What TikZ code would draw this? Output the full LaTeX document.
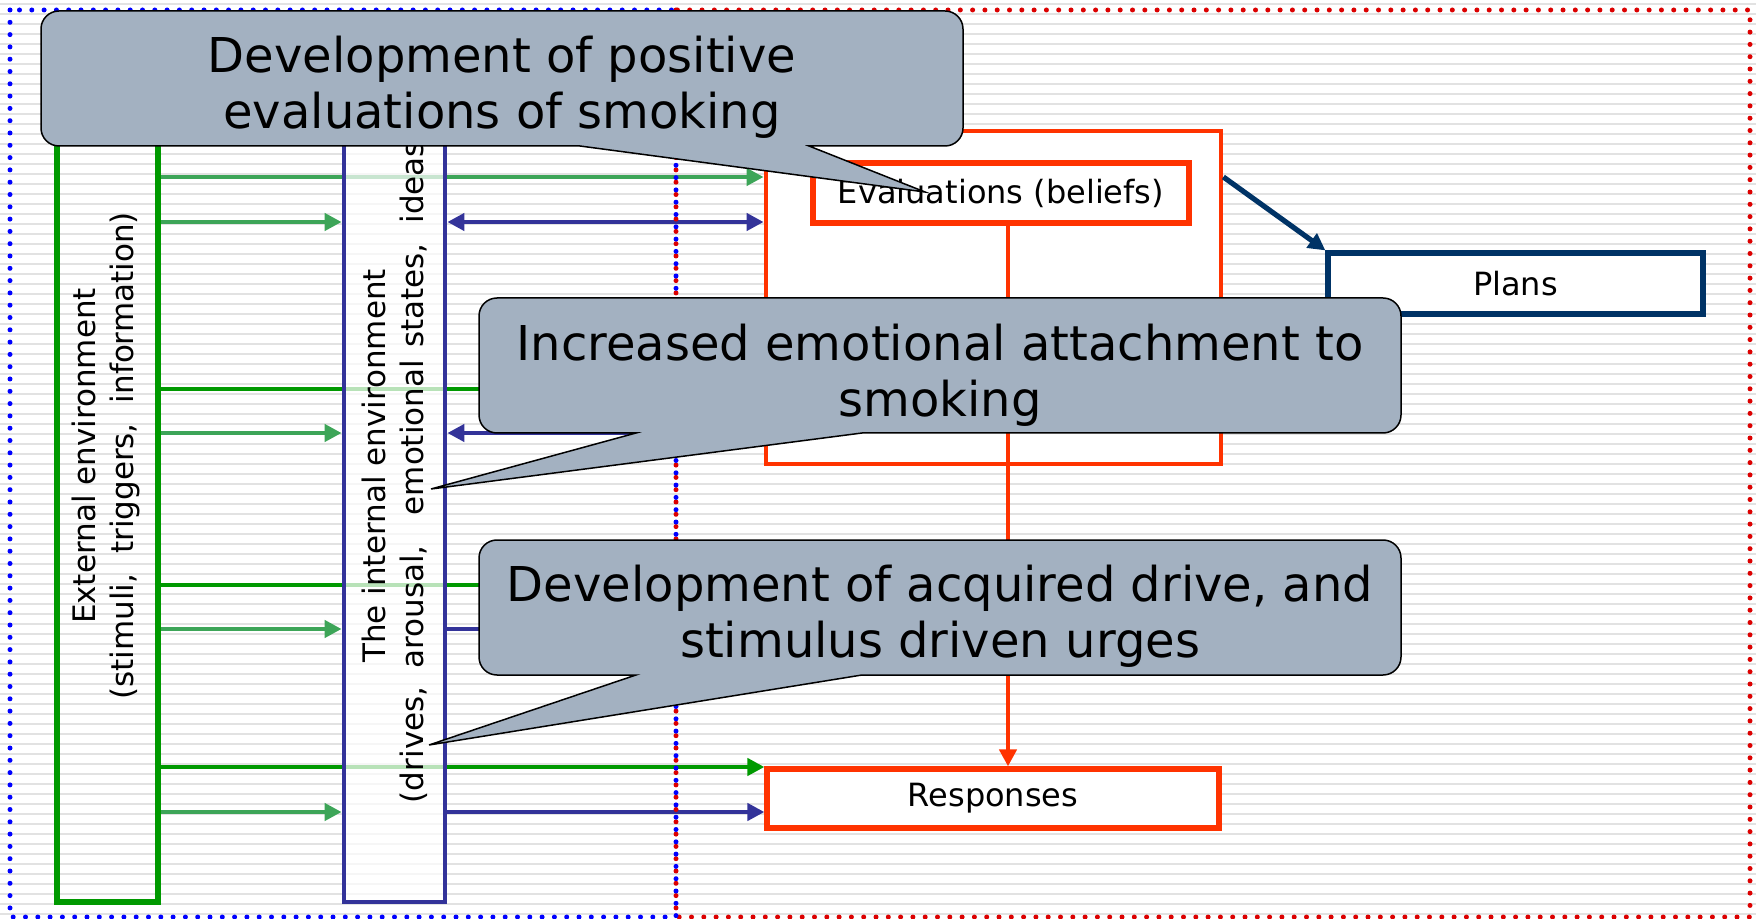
\documentclass[tikz,border=0pt]{standalone}
\usepackage{fontspec}
\setmainfont{DejaVu Sans}
\usetikzlibrary{arrows.meta}
\definecolor{extgreen}{RGB}{0,153,0}
\definecolor{lgreen}{RGB}{61,165,88}
\definecolor{intblue}{RGB}{51,51,153}
\definecolor{ored}{RGB}{255,51,0}
\definecolor{navy}{RGB}{0,51,102}
\definecolor{callfill}{RGB}{163,177,193}
\definecolor{dotred}{RGB}{220,0,0}
\definecolor{dotblue}{RGB}{0,0,255}
\definecolor{stripecol}{RGB}{226,226,226}
\begin{document}
\begin{tikzpicture}[x=0.5pt,y=-0.5pt,
  tipend/.style={-{Triangle[length=8.5pt,width=8.5pt]}},
  tipboth/.style={{Triangle[length=8.5pt,width=8.5pt]}-{Triangle[length=8.5pt,width=8.5pt]}},
  conn/.style={line width=2.4pt},
  boxsmall/.style={font=\fontsize{16}{19}\selectfont, fill=white, inner sep=0pt, line width=2.6pt},
  vlabel/.style={rotate=90, align=center, font=\fontsize{15.5}{19}\selectfont, inner sep=0pt},
  callout/.style={draw=black, line width=0.75pt, fill=callfill},
  callouttext/.style={align=center, font=\fontsize{24}{28}\selectfont, inner sep=0pt},
  dotframe/.style={line width=2.5pt, line cap=round, dash pattern=on 0pt off 6.15pt}
]
\useasboundingbox (0,0) rectangle (1756,919);
\fill[white] (0,0) rectangle (1756,919);
\foreach \yy in {4,14,...,919} \draw[stripecol, line width=1pt] (0,\yy) -- (1756,\yy);

% row coordinates
\coordinate (r1) at (0,177);
\coordinate (r2) at (0,222);
\coordinate (r3) at (0,389);
\coordinate (r4) at (0,433);
\coordinate (r5) at (0,585);
\coordinate (r6) at (0,629);
\coordinate (r7) at (0,767);
\coordinate (r8) at (0,812);
\coordinate (vx) at (1008,0);
\coordinate (hid5) at (765,585);
\coordinate (hid6) at (765,629);

% boxes
\node[draw=extgreen, line width=2.6pt, minimum width=50.5pt, minimum height=381pt, inner sep=0pt] (ext) at (107.5,521) {};
\node[draw=ored, line width=2.4pt, fill=white, minimum width=227.5pt, minimum height=166.5pt, inner sep=0pt] (grp) at (993.5,297.5) {};
\node[boxsmall, draw=ored, minimum width=188pt, minimum height=30pt] (eval) at (1001,193) {Evaluations (beliefs)};
\node[boxsmall, draw=navy, minimum width=187.5pt, minimum height=30.5pt] (plans) at (1515.5,283.5) {Plans};
\node[boxsmall, draw=ored, minimum width=226pt, minimum height=29.5pt] (resp) at (993,798.5) {Responses};

% long green lines (behind the internal box)
\draw[conn, lgreen, tipend] (ext.east |- r1) -- (grp.west |- r1);
\draw[conn, extgreen, tipend] (ext.east |- r3) -- (grp.west |- r3);
\draw[conn, extgreen, tipend] (ext.east |- r5) -- (hid5);
\draw[conn, extgreen, tipend] (ext.east |- r7) -- (resp.west |- r7);

% internal environment box
\node[draw=intblue, line width=2.4pt, fill=white, fill opacity=0.72, minimum width=50.5pt, minimum height=381pt, inner sep=0pt] (int) at (394.5,521) {};

% short green arrows
\draw[conn, lgreen, tipend] (ext.east |- r2) -- (int.west |- r2);
\draw[conn, lgreen, tipend] (ext.east |- r4) -- (int.west |- r4);
\draw[conn, lgreen, tipend] (ext.east |- r6) -- (int.west |- r6);
\draw[conn, lgreen, tipend] (ext.east |- r8) -- (int.west |- r8);

% blue arrows
\draw[conn, intblue, tipboth] (int.east |- r2) -- (grp.west |- r2);
\draw[conn, intblue, tipboth] (int.east |- r4) -- (grp.west |- r4);
\draw[conn, intblue, tipend] (int.east |- r6) -- (hid6);
\draw[conn, intblue, tipend] (int.east |- r8) -- (resp.west |- r8);

% red and navy connectors
\draw[conn, ored, tipend] (eval.south -| vx) -- (resp.north -| vx);
\draw[line width=2.6pt, navy, tipend] (grp.east |- r1) -- (plans.north west);

% rotated labels
\node[vlabel] (extlbl) at (106,456) {External environment\\(stimuli,\hspace{10pt}triggers,\hspace{10pt}information)};
\node[vlabel] (intlbl) at (395,466) {The internal environment\\(drives,\hspace{9pt}arousal,\hspace{15pt}emotional\hspace{6pt}states,\hspace{10pt}ideas)};

% dotted frames
\draw[dotframe, dotred] (676,10) rectangle (1750,917);
\draw[dotframe, dotblue] (10,10) rectangle (676,917);

% callouts
\draw[callout] (41,80) [rounded corners=9pt] -- (41,11) -- (963,11) -- (963,146) -- (829,146) [sharp corners] -- (809,146) -- (925,192) -- (580,146) -- (560,146) [rounded corners=9pt] -- (41,146) -- cycle;
\node[callouttext] (c1) at (502,87) {Development of positive\\evaluations of smoking};

\draw[callout] (479,360) [rounded corners=9pt] -- (479,298) -- (1401,298) -- (1401,433) -- (882,433) [sharp corners] -- (862,433) -- (431,489) -- (636,433) -- (616,433) [rounded corners=9pt] -- (479,433) -- cycle;
\node[callouttext] (c2) at (940,375) {Increased emotional attachment to\\smoking};

\draw[callout] (479,600) [rounded corners=9pt] -- (479,540) -- (1401,540) -- (1401,675) -- (882,675) [sharp corners] -- (862,675) -- (429,745) -- (636,675) -- (616,675) [rounded corners=9pt] -- (479,675) -- cycle;
\node[callouttext] (c3) at (940,616) {Development of acquired drive, and\\stimulus driven urges};
\end{tikzpicture}
\end{document}
